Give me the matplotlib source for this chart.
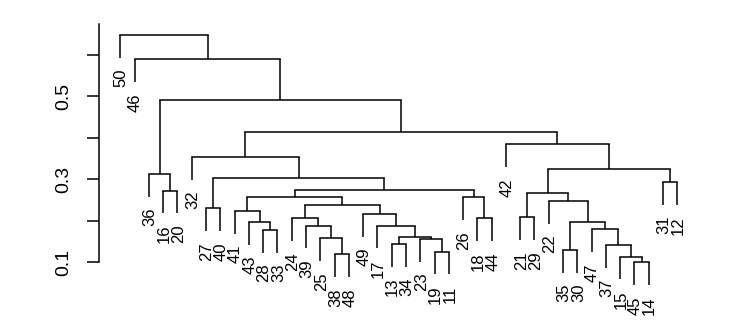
import matplotlib
matplotlib.use('Agg')
import matplotlib.pyplot as plt

plt.rcParams['font.family'] = ['Liberation Sans', 'DejaVu Sans']

# Leaf order along the x axis (observation labels)
leaf_order = [50, 46, 36, 16, 20, 32, 27, 40, 41, 43, 28, 33, 24, 39, 25, 38, 48,
              49, 17, 13, 34, 23, 19, 11, 26, 18, 44, 42, 21, 29, 22, 35, 30, 47,
              37, 15, 45, 14, 31, 12]

# hclust-style merge table: negative = leaf label, positive = earlier merge row (1-based)
merge_left = [-45, -15, -38, -19, -35, -37, -13, -23, -25, 7, -28, -47, -39, -17,
              -43, 5, -24, -18, -21, -49, -41, -27, 17, -22, 21, -26, 19, -16, 25,
              -31, 22, -36, 27, -32, -42, 34, 32, -46, -50]
merge_right = [-14, 1, -48, -11, -30, 2, -34, 4, 3, 8, -33, 6, 9, 10,
               11, 12, 13, -44, -29, 14, 15, -40, 20, 16, 23, 18, 24, -20, 26,
               -12, 29, 28, 30, 31, 33, 35, 36, 37, 38]
merge_height = [0.100, 0.1135, 0.119, 0.1256, 0.1296, 0.141, 0.1434, 0.1566, 0.158,
                0.160, 0.178, 0.1795, 0.188, 0.188, 0.197, 0.197, 0.206, 0.206,
                0.208, 0.2164, 0.2236, 0.230, 0.238, 0.248, 0.2566, 0.2566, 0.266,
                0.2725, 0.274, 0.293, 0.304, 0.313, 0.325, 0.354, 0.384, 0.413,
                0.490, 0.589, 0.647]
hang = 0.0547

y_ticks = [0.1, 0.2, 0.3, 0.4, 0.5, 0.6]
y_tick_labels = ['0.1', '', '0.3', '', '0.5', '']

W, H = 750, 330
fig = plt.figure(figsize=(W / 100, H / 100), dpi=100)
ax_left_px, ax_right_px = 98.7, 700
ax_top_px, ax_bot_px = 20, 320
ax = fig.add_axes([ax_left_px / W, (H - ax_bot_px) / H,
                   (ax_right_px - ax_left_px) / W, (ax_bot_px - ax_top_px) / H])

sp = 14.282
ax.set_xlim(1 + (ax_left_px - 120.3) / sp, 1 + (ax_right_px - 120.3) / sp)
ax.set_ylim(0.1 + (262.3 - ax_bot_px) / 415, 0.1 + (262.3 - ax_top_px) / 415)

pos = {lab: i + 1 for i, lab in enumerate(leaf_order)}
lw = 1.1
col = 'black'


def node_x(ref):
    if ref < 0:
        return pos[-ref]
    return mid[ref - 1]


mid = []
for k in range(len(merge_height)):
    l, r, h = merge_left[k], merge_right[k], merge_height[k]
    xs = []
    for ref in (l, r):
        x = node_x(ref)
        if ref < 0:
            y0 = h - hang
            ax.plot([x, x], [h, y0], color=col, lw=lw, solid_capstyle='butt')
            ax.annotate(str(-ref), xy=(x, y0), xytext=(1, -11),
                        textcoords='offset pixels', rotation=90, ha='center',
                        va='top', fontsize=12, color='black', annotation_clip=False)
        else:
            ax.plot([x, x], [h, merge_height[ref - 1]], color=col, lw=lw,
                    solid_capstyle='butt')
        xs.append(x)
    ax.plot(xs, [h, h], color=col, lw=lw, solid_capstyle='projecting')
    mid.append((xs[0] + xs[1]) / 2)

for s in ['top', 'right', 'bottom']:
    ax.spines[s].set_visible(False)
ax.spines['left'].set_bounds(0.1, 0.675)
ax.spines['left'].set_linewidth(1.1)
ax.set_xticks([])
ax.set_yticks(y_ticks)
ax.set_yticklabels(y_tick_labels, rotation=90, va='center', fontsize=14)
ax.tick_params(axis='y', length=9, width=1.1, pad=10)
ax.patch.set_visible(False)

fig.savefig('out.png', dpi=100)
